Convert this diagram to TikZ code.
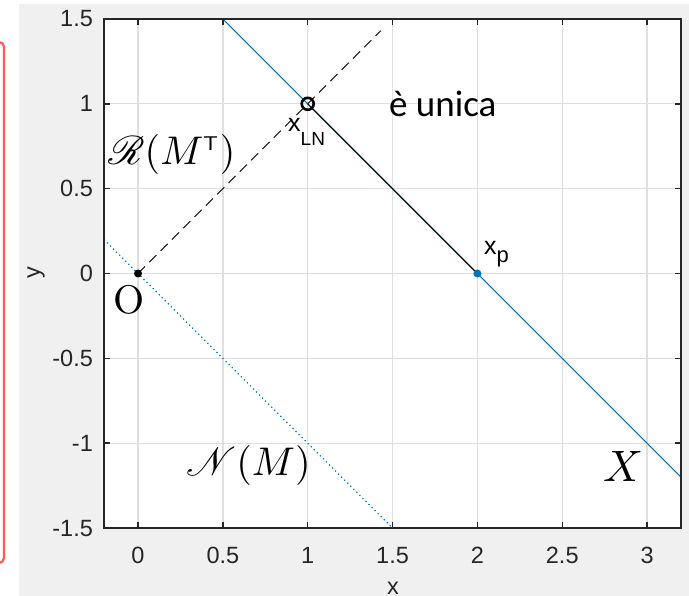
\documentclass[tikz,border=0pt]{standalone}
\usepackage{fontspec}
\usepackage{mathrsfs}
\usepackage{graphicx}
\newfontfamily\axfont{Liberation Sans}
\newfontfamily\calfont{Carlito}
\definecolor{mblue}{HTML}{0072BD}
\definecolor{axgray}{HTML}{262626}
\definecolor{gridgray}{HTML}{DFDFDF}
\definecolor{bggray}{HTML}{F0F0F0}
\definecolor{redbox}{HTML}{FF5A5A}
\tikzset{
  gridline/.style={draw=gridgray, line width=1.3pt},
  axisbox/.style={draw=axgray, line width=1.5pt},
  ticklab/.style={inner sep=0pt, text=axgray, font=\axfont\fontsize{23.5}{28}\selectfont},
  xlinestyle/.style={draw=mblue, line width=1pt},
  nullstyle/.style={draw=mblue, line width=1.2pt, dash pattern=on 1.2pt off 3.1pt},
  rangestyle/.style={draw=black, line width=1pt, dash pattern=on 10pt off 6pt},
  lnstyle/.style={draw=black, line width=1.1pt},
  mathlab/.style={inner sep=0pt, font=\fontsize{10}{12}\selectfont},
  txtlab/.style={inner sep=0pt, font=\axfont\fontsize{25}{30}\selectfont},
}
\begin{document}
\begin{tikzpicture}[x=1pt,y=1pt]
\useasboundingbox (0,0) rectangle (689,596);
\fill[bggray] (19,0) rectangle (689,592);
\draw[redbox, line width=2.2pt, rounded corners=5pt] (-10,554) rectangle (4,33);
\fill[white] (104.06,67.95) rectangle (681,577.05);
\begin{scope}[shift={(138pt,322.5pt)}, x=169.7pt, y=169.7pt]
  % grid
  \foreach \gx in {0,0.5,1,1.5,2,2.5,3} \draw[gridline] (\gx,-1.5) -- (\gx,1.5);
  \foreach \gy in {-1,-0.5,0,0.5,1} \draw[gridline] (-0.2,\gy) -- (3.2,\gy);
  % coordinates
  \coordinate (Xa) at (0.5,1.5);
  \coordinate (Xb) at (3.2,-1.2);
  \coordinate (Na) at (-0.2,0.2);
  \coordinate (Nb) at (1.5,-1.5);
  \coordinate (O) at (0,0);
  \coordinate (Rb) at (1.43,1.43);
  \coordinate (xln) at (1,1);
  \coordinate (xp) at (2,0);
  \begin{scope}
    \clip (-0.2,-1.5) rectangle (3.2,1.5);
    \draw[xlinestyle] (Xa) -- (Xb);
    \draw[rangestyle] (O) -- (Rb);
    \draw[nullstyle] (Na) -- (Nb);
    \draw[lnstyle] (xln) -- (xp);
  \end{scope}
  \fill[black] (O) circle (4pt);
  \fill[mblue] (xp) circle (4pt);
  \draw[black, line width=2.6pt] (xln) circle (6pt);
  % axes box and ticks
  \draw[axisbox] (-0.2,-1.5) rectangle (3.2,1.5);
  \foreach \gx in {0,0.5,1,1.5,2,2.5,3} {
    \draw[axisbox] (\gx,-1.5) -- ++(0,6pt);
    \draw[axisbox] (\gx,1.5) -- ++(0,-6pt);
  }
  \foreach \gy in {-1.5,-1,-0.5,0,0.5,1,1.5} {
    \draw[axisbox] (-0.2,\gy) -- ++(6pt,0);
    \draw[axisbox] (3.2,\gy) -- ++(-6pt,0);
  }
  % tick labels
  \node[ticklab] (tx0) at (0,-1.5) [yshift=-27pt] {0};
  \node[ticklab] (tx1) at (0.5,-1.5) [yshift=-27pt] {0.5};
  \node[ticklab] (tx2) at (1,-1.5) [yshift=-27pt] {1};
  \node[ticklab] (tx3) at (1.5,-1.5) [yshift=-27pt] {1.5};
  \node[ticklab] (tx4) at (2,-1.5) [yshift=-27pt] {2};
  \node[ticklab] (tx5) at (2.5,-1.5) [yshift=-27pt] {2.5};
  \node[ticklab] (tx6) at (3,-1.5) [yshift=-27pt] {3};
  \node[ticklab, anchor=east] (ty0) at (-0.2,-1.5) [xshift=-11pt] {-1.5};
  \node[ticklab, anchor=east] (ty1) at (-0.2,-1) [xshift=-11pt] {-1};
  \node[ticklab, anchor=east] (ty2) at (-0.2,-0.5) [xshift=-11pt] {-0.5};
  \node[ticklab, anchor=east] (ty3) at (-0.2,0) [xshift=-11pt] {0};
  \node[ticklab, anchor=east] (ty4) at (-0.2,0.5) [xshift=-11pt] {0.5};
  \node[ticklab, anchor=east] (ty5) at (-0.2,1) [xshift=-11pt] {1};
  \node[ticklab, anchor=east] (ty6) at (-0.2,1.5) [xshift=-11pt] {1.5};
\end{scope}
% axis labels
\node[ticklab] (xlab) at (393,8) {x};
\node[ticklab, rotate=90] (ylab) at (36,323) {y};
% annotations
\node[txtlab, anchor=base west] (lblxln) at (288,464) {x\raisebox{-14pt}{\fontsize{19}{22}\selectfont LN}};
\node[txtlab, anchor=base west] (lblxp) at (484,341) {x\raisebox{-8pt}{\fontsize{22}{26}\selectfont p}};
\node[inner sep=0pt, anchor=base west, font=\calfont\fontsize{37}{44}\selectfont] (unica) at (389,479) {è unica};
\node[mathlab, anchor=base west] (lblR) at (108,431) {\scalebox{4}{$\mathscr{R}(M^{\scriptscriptstyle\mathsf{T}})$}};
\node[mathlab, anchor=base west] (lblN) at (186,120) {\scalebox{4}{$\mathscr{N}(M)$}};
\node[mathlab, anchor=base west] (lblX) at (603,114) {\scalebox{4.4}{$X$}};
\node[mathlab, anchor=base west] (lblO) at (113,282) {\scalebox{4}{O}};
\end{tikzpicture}
\end{document}
